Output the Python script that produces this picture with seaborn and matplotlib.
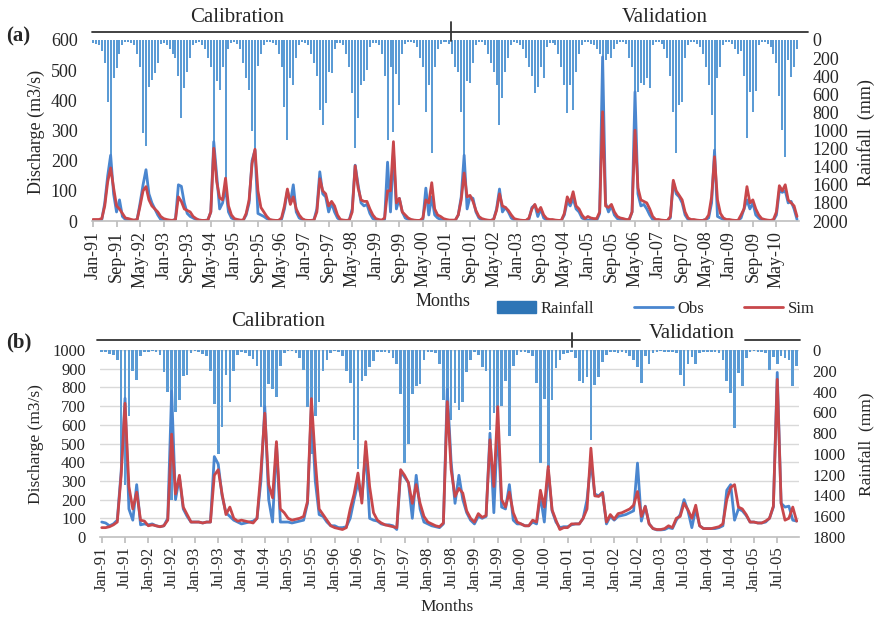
"""
Monthly discharge (observed vs simulated) with rainfall hyetograph, two stations.
"""
import numpy as np
import pandas as pd
import matplotlib
matplotlib.use('Agg')
import matplotlib.pyplot as plt
from matplotlib.lines import Line2D
from matplotlib.patches import Patch
import seaborn as sns

# ---- panel (a): Jan-91 .. Dec-10, one row per year ----
obs_a = [
    2, 2, 2, 5, 60, 150, 218, 90, 30, 70, 15, 5,          # 1991
    3, 2, 2, 5, 60, 120, 170, 90, 60, 40, 20, 5,          # 1992
    3, 2, 2, 2, 5, 120, 115, 60, 25, 15, 10, 5,           # 1993
    3, 2, 2, 3, 30, 263, 150, 40, 60, 110, 30, 10,        # 1994
    5, 3, 2, 2, 20, 60, 200, 235, 25, 20, 15, 8,          # 1995
    3, 2, 2, 2, 5, 40, 100, 60, 120, 30, 10, 5,           # 1996
    2, 2, 2, 3, 40, 163, 90, 80, 30, 60, 30, 10,          # 1997
    2, 2, 2, 3, 40, 185, 120, 60, 50, 55, 25, 8,          # 1998
    3, 2, 2, 5, 195, 30, 230, 40, 75, 30, 10, 5,          # 1999
    3, 2, 2, 2, 5, 109, 20, 80, 20, 10, 5, 3,             # 2000
    2, 2, 2, 2, 20, 80, 218, 40, 80, 75, 30, 10,          # 2001
    3, 2, 2, 2, 5, 40, 106, 30, 45, 30, 10, 3,            # 2002
    3, 2, 2, 2, 5, 45, 53, 15, 40, 10, 3, 2,              # 2003
    2, 2, 2, 2, 20, 65, 50, 75, 40, 30, 10, 5,            # 2004
    3, 2, 2, 2, 25, 544, 60, 30, 50, 20, 8, 5,            # 2005
    5, 3, 3, 30, 428, 90, 50, 55, 40, 20, 5, 2,           # 2006
    2, 2, 2, 2, 10, 130, 90, 80, 60, 20, 5, 2,            # 2007
    2, 2, 2, 2, 5, 10, 60, 235, 15, 10, 5, 2,             # 2008
    2, 2, 2, 2, 10, 40, 70, 40, 60, 20, 10, 3,            # 2009
    2, 2, 2, 2, 20, 100, 95, 100, 60, 65, 40, 5,          # 2010
]
sim_a = [
    5, 5, 5, 8, 50, 130, 176, 110, 50, 40, 25, 10,
    8, 5, 3, 5, 50, 100, 114, 70, 50, 40, 30, 15,
    8, 5, 3, 2, 5, 80, 65, 40, 35, 30, 15, 8,
    3, 2, 2, 3, 30, 241, 130, 77, 70, 142, 50, 20,
    8, 5, 3, 3, 25, 70, 190, 238, 100, 45, 30, 15,
    5, 3, 2, 2, 10, 50, 106, 55, 80, 40, 20, 8,
    3, 2, 2, 3, 30, 140, 100, 90, 50, 65, 50, 20,
    5, 3, 2, 3, 30, 183, 110, 70, 65, 65, 40, 20,
    8, 5, 3, 10, 100, 100, 263, 60, 75, 30, 20, 10,
    5, 3, 2, 2, 10, 70, 60, 127, 40, 20, 15, 8,
    5, 3, 3, 3, 20, 70, 159, 80, 85, 65, 35, 15,
    8, 5, 3, 2, 5, 35, 90, 50, 45, 35, 20, 8,
    5, 3, 2, 2, 10, 40, 55, 30, 45, 20, 8, 5,
    5, 3, 2, 2, 25, 80, 60, 97, 50, 40, 20, 8,
    15, 10, 8, 8, 30, 362, 50, 45, 55, 30, 15, 10,
    8, 5, 5, 30, 301, 110, 70, 65, 60, 40, 15, 5,
    5, 3, 2, 2, 15, 135, 100, 85, 70, 30, 10, 5,
    5, 3, 2, 2, 5, 20, 80, 213, 70, 25, 10, 5,
    5, 3, 2, 2, 20, 40, 114, 60, 70, 40, 20, 8,
    5, 3, 2, 5, 30, 117, 100, 120, 70, 60, 50, 15,
]
rain_a = [
    30, 40, 60, 120, 250, 680, 1270, 420, 310, 160, 50, 20,
    20, 30, 60, 150, 300, 1030, 1170, 520, 440, 365, 250, 40,
    30, 50, 100, 150, 200, 400, 862, 530, 350, 200, 60, 30,
    20, 60, 100, 200, 300, 1124, 450, 550, 300, 1525, 100, 30,
    20, 40, 100, 250, 420, 550, 1000, 1215, 290, 150, 50, 20,
    20, 30, 60, 150, 300, 737, 1105, 420, 497, 200, 60, 20,
    30, 50, 150, 250, 400, 773, 940, 700, 350, 370, 100, 30,
    30, 60, 150, 300, 586, 1193, 862, 497, 450, 330, 80, 30,
    30, 60, 150, 400, 1105, 300, 1013, 380, 718, 150, 40, 20,
    20, 30, 80, 200, 300, 792, 500, 1249, 300, 100, 40, 20,
    20, 40, 150, 300, 350, 792, 1289, 450, 475, 250, 60, 20,
    20, 60, 150, 250, 350, 500, 940, 641, 350, 200, 50, 20,
    30, 50, 100, 200, 300, 400, 586, 515, 300, 420, 80, 30,
    30, 60, 150, 300, 500, 807, 500, 773, 350, 150, 50, 20,
    20, 40, 60, 100, 150, 250, 220, 150, 200, 100, 40, 20,
    20, 40, 200, 300, 570, 570, 470, 497, 420, 530, 60, 20,
    20, 40, 100, 200, 400, 792, 1249, 718, 680, 200, 50, 20,
    20, 40, 80, 150, 300, 500, 829, 1215, 420, 300, 60, 20,
    20, 40, 100, 150, 120, 400, 1083, 580, 792, 560, 60, 20,
    20, 40, 80, 150, 250, 620, 994, 1289, 220, 405, 300, 100,
]

# ---- panel (b): Jan-91 .. Dec-05 ----
obs_b = [
    80, 75, 60, 70, 90, 350, 742, 150, 90, 280, 65, 70,       # 1991
    65, 70, 60, 55, 60, 100, 780, 200, 320, 150, 110, 80,     # 1992
    80, 80, 75, 80, 80, 430, 390, 220, 130, 110, 90, 80,      # 1993
    70, 75, 80, 85, 100, 300, 697, 200, 80, 500, 80, 80,      # 1994
    80, 75, 80, 85, 90, 180, 700, 300, 120, 110, 80, 60,      # 1995
    60, 50, 50, 55, 100, 200, 290, 200, 470, 100, 90, 85,     # 1996
    70, 65, 65, 60, 40, 350, 320, 290, 100, 330, 150, 80,     # 1997
    70, 60, 55, 50, 70, 790, 400, 180, 330, 200, 130, 90,     # 1998
    70, 110, 100, 110, 555, 130, 600, 160, 150, 280, 90, 70,  # 1999
    70, 60, 60, 80, 70, 220, 80, 360, 140, 80, 50, 55,        # 2000
    55, 65, 70, 70, 100, 200, 404, 230, 220, 240, 70, 110,    # 2001
    90, 110, 115, 120, 130, 140, 395, 85, 165, 70, 45, 38,    # 2002
    38, 40, 50, 45, 90, 120, 200, 140, 50, 150, 60, 45,       # 2003
    45, 45, 45, 50, 60, 250, 280, 90, 150, 140, 115, 80,      # 2004
    80, 75, 75, 80, 100, 160, 880, 180, 160, 165, 90, 85,     # 2005
]
sim_b = [
    50, 50, 55, 65, 80, 330, 715, 270, 150, 240, 90, 85,
    60, 65, 60, 55, 60, 90, 550, 230, 330, 160, 120, 80,
    80, 80, 75, 80, 80, 330, 360, 230, 120, 160, 100, 85,
    90, 85, 80, 75, 100, 350, 662, 280, 210, 510, 150, 130,
    100, 90, 95, 100, 110, 190, 740, 413, 150, 120, 90, 60,
    50, 45, 40, 50, 150, 230, 342, 181, 510, 270, 130, 90,
    75, 65, 60, 55, 50, 360, 330, 290, 180, 280, 180, 110,
    80, 70, 60, 55, 75, 724, 360, 217, 260, 235, 140, 100,
    80, 125, 105, 115, 520, 270, 697, 200, 160, 240, 130, 80,
    70, 60, 60, 90, 80, 250, 160, 377, 145, 90, 40, 50,
    50, 70, 70, 70, 100, 150, 475, 220, 217, 235, 80, 120,
    95, 125, 130, 140, 150, 170, 243, 110, 163, 70, 45, 40,
    40, 45, 60, 50, 100, 110, 181, 145, 100, 170, 60, 45,
    45, 45, 50, 55, 70, 200, 265, 280, 160, 150, 120, 80,
    80, 75, 75, 85, 100, 165, 843, 180, 90, 100, 160, 85,
]
rain_b = [
    20, 15, 40, 50, 100, 1190, 1300, 640, 200, 290, 60, 20,
    15, 10, 20, 50, 210, 400, 1440, 600, 480, 250, 240, 30,
    10, 20, 40, 60, 200, 520, 1000, 740, 240, 500, 200, 50,
    20, 30, 60, 90, 150, 550, 700, 330, 380, 450, 150, 30,
    10, 10, 30, 80, 190, 550, 1000, 640, 500, 200, 100, 30,
    10, 15, 60, 200, 320, 865, 1150, 300, 250, 160, 110, 20,
    15, 20, 30, 80, 130, 420, 1090, 900, 420, 350, 330, 100,
    20, 15, 30, 130, 480, 700, 670, 510, 580, 500, 210, 100,
    20, 50, 160, 200, 770, 610, 600, 540, 300, 830, 150, 50,
    20, 15, 30, 60, 320, 1090, 470, 1140, 480, 175, 100, 40,
    30, 20, 80, 300, 320, 260, 870, 340, 260, 120, 50, 20,
    20, 25, 20, 30, 60, 100, 160, 320, 60, 130, 30, 20,
    10, 15, 20, 20, 30, 240, 350, 130, 70, 130, 30, 15,
    15, 20, 20, 30, 100, 300, 415, 750, 220, 350, 80, 20,
    10, 15, 20, 30, 190, 70, 130, 60, 80, 100, 350, 150,
]

sns.set_theme(style="white")
plt.rcParams['font.family'] = ['Liberation Serif', 'DejaVu Serif']

OBS_C = '#4A86CF'
SIM_C = '#C8474B'
RAIN_C = '#5B9BD5'
AXIS_C = '#BFBFBF'
W, H = 876, 623


def fx(px):
    return px / W


def fy(py):
    return 1 - py / H


def draw_panel(ax, obs, sim, rain, tick_step, q_max, r_max, fs, grid):
    n = len(obs)
    df = pd.DataFrame({
        'm': np.arange(n), 'Obs': obs, 'Sim': sim, 'Rain': rain,
        'label': pd.date_range('1991-01-01', periods=n, freq='MS').strftime('%b-%y'),
    })

    ax2 = ax.twinx()
    if grid:
        # gridlines drawn in rainfall units so they stay behind the bars
        for q in range(100, q_max + 1, 100):
            ax2.axhline((q_max - q) / q_max * r_max, color='#D9D9D9', lw=1, zorder=0)
    sns.barplot(data=df, x='m', y='Rain', ax=ax2, color=RAIN_C, width=0.68,
                native_scale=True, errorbar=None, saturation=1, linewidth=0, zorder=2)
    ax2.set_ylim(r_max, 0)
    ax2.set_yticks(range(0, r_max + 1, 200))
    ax2.set_ylabel('')
    ax2.tick_params(axis='y', right=False, length=0, pad=10, labelsize=fs)

    sns.lineplot(data=df, x='m', y='Obs', ax=ax, color=OBS_C, lw=2.0)
    sns.lineplot(data=df, x='m', y='Sim', ax=ax, color=SIM_C, lw=2.0)
    ax.set_zorder(ax2.get_zorder() + 1)
    ax.patch.set_visible(False)

    ax.set_xlim(-0.5, n - 0.5)
    ax.set_ylim(0, q_max)
    ax.set_yticks(range(0, q_max + 1, 100))
    ax.set_xticks(df['m'][::tick_step])
    ax.set_xticklabels(df['label'][::tick_step], rotation=90, fontsize=fs)
    ax.tick_params(axis='x', bottom=True, length=4, color=AXIS_C, pad=3)
    ax.tick_params(axis='y', left=False, length=0, pad=10, labelsize=fs)
    ax.set_xlabel('')
    ax.set_ylabel('')
    for s in ['top', 'left', 'right']:
        ax.spines[s].set_visible(False)
        ax2.spines[s].set_visible(False)
    ax2.spines['bottom'].set_visible(False)
    ax.spines['bottom'].set_color(AXIS_C)
    ax.spines['bottom'].set_linewidth(1.2)
    return ax2


fig = plt.figure(figsize=(W / 100, H / 100), dpi=100)

ax_a = fig.add_axes([fx(91.5), fy(221), fx(798.5) - fx(91.5), 181 / H])
draw_panel(ax_a, obs_a, sim_a, rain_a, tick_step=8, q_max=600, r_max=2000, fs=13, grid=False)

ax_b = fig.add_axes([fx(99.8), fy(537), fx(798.6) - fx(99.8), 187 / H])
draw_panel(ax_b, obs_b, sim_b, rain_b, tick_step=6, q_max=1000, r_max=1800, fs=12, grid=True)

# axis titles
fig.text(fx(36), fy(132), 'Discharge (m3/s)', rotation=90, ha='center', va='center', fontsize=13)
fig.text(fx(866), fy(133), 'Rainfall  (mm)', rotation=90, ha='center', va='center', fontsize=13)
fig.text(fx(443), fy(302), 'Months', ha='center', va='center', fontsize=13)
fig.text(fx(36), fy(444), 'Discharge (m3/s)', rotation=90, ha='center', va='center', fontsize=12.5)
fig.text(fx(866), fy(444), 'Rainfall  (mm)', rotation=90, ha='center', va='center', fontsize=12.5)
fig.text(fx(447), fy(607), 'Months', ha='center', va='center', fontsize=12.5)

# panel tags
fig.text(fx(6), fy(36), '(a)', fontweight='bold', ha='left', va='center', fontsize=15)
fig.text(fx(6), fy(342), '(b)', fontweight='bold', ha='left', va='center', fontsize=15)

# calibration / validation brackets
fig.add_artist(Line2D([fx(92), fx(808)], [fy(32), fy(32)], color='#333333', lw=1.3))
fig.add_artist(Line2D([fx(451), fx(451)], [fy(22), fy(41)], color='#333333', lw=1.3))
fig.text(fx(237), fy(17), 'Calibration', ha='center', va='center', fontsize=15)
fig.text(fx(665), fy(17), 'Validation', ha='center', va='center', fontsize=15)

fig.add_artist(Line2D([fx(97), fx(640)], [fy(340), fy(340)], color='#333333', lw=1.3))
fig.add_artist(Line2D([fx(745), fx(800)], [fy(340), fy(340)], color='#333333', lw=1.3))
fig.add_artist(Line2D([fx(572), fx(572)], [fy(333), fy(347)], color='#333333', lw=1.3))
fig.text(fx(278), fy(321), 'Calibration', ha='center', va='center', fontsize=15)
fig.text(fx(692), fy(333), 'Validation', ha='center', va='center', fontsize=15)

handles = [Patch(color='#2E75B6', label='Rainfall'),
           Line2D([], [], color=OBS_C, lw=2, label='Obs'),
           Line2D([], [], color=SIM_C, lw=2, label='Sim')]
fig.legend(handles=handles, loc='center', bbox_to_anchor=(fx(656), fy(309)), ncol=3,
           frameon=False, fontsize=12, handlelength=2.3, handletextpad=0.3,
           columnspacing=2.4, borderpad=0.1)

plt.savefig('out.png', dpi=100)
plt.close()
